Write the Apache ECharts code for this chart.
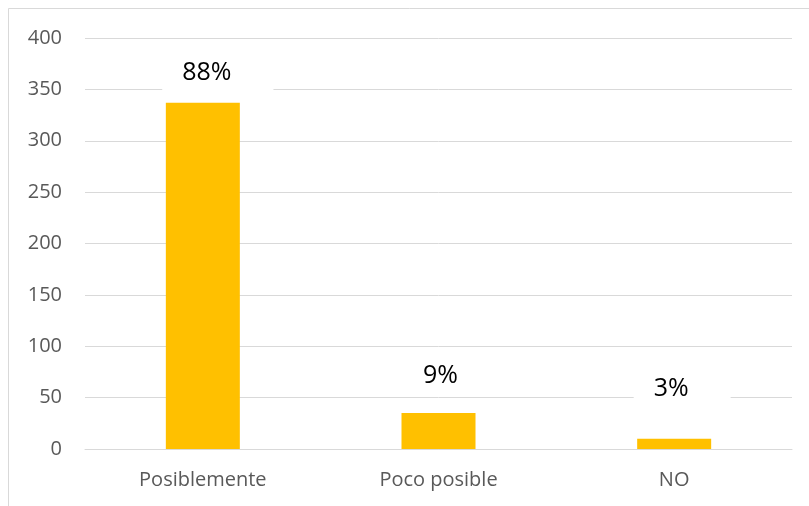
<!DOCTYPE html>
<html>
<head>
<meta charset="utf-8">
<script src="https://cdn.jsdelivr.net/npm/echarts@6/dist/echarts.min.js"></script>
<style>
  html, body { margin: 0; padding: 0; background: #fff; }
  #chart { width: 809px; height: 506px; }
</style>
</head>
<body>
<div id="chart"></div>
<script>
// Responses per category
const categories = ['Posiblemente', 'Poco posible', 'NO'];
const counts = [337, 35, 10];
const percentLabels = ['88%', '9%', '3%'];
const yTicks = { min: 0, max: 400, interval: 50 };

// Placement of each percentage label relative to its bar
const labelDistances = [9, 17, 29];
const labelShiftX = [15, 13, 8];

const FONT = 'Open Sans, Noto Sans, sans-serif';
const chart = echarts.init(document.getElementById('chart'));

chart.setOption({
  animation: false,
  backgroundColor: '#ffffff',
  graphic: [{
    type: 'rect',
    shape: { x: 8.5, y: 8.5, width: 820, height: 520 },
    style: { fill: 'none', stroke: '#d9d9d9', lineWidth: 1 },
    silent: true
  }],
  grid: { left: 85, right: 17, top: 38, bottom: 57 },
  xAxis: {
    type: 'category',
    data: categories,
    axisLine: { show: true, lineStyle: { color: '#d9d9d9', width: 1 } },
    axisTick: { show: false },
    axisLabel: { color: '#595959', fontSize: 20, fontFamily: FONT, margin: 21 }
  },
  yAxis: {
    type: 'value',
    min: yTicks.min,
    max: yTicks.max,
    interval: yTicks.interval,
    axisLine: { show: false },
    axisTick: { show: false },
    splitLine: { lineStyle: { color: '#d9d9d9', width: 1 } },
    axisLabel: { color: '#595959', fontSize: 20, fontFamily: FONT, margin: 23 }
  },
  series: [{
    type: 'bar',
    barWidth: 74,
    z: 3,
    itemStyle: { color: '#ffc000' },
    data: counts.map((v, i) => ({
      value: v,
      label: {
        show: true,
        position: 'top',
        distance: labelDistances[i],
        offset: [labelShiftX[i], 0],
        formatter: percentLabels[i],
        color: '#000000',
        fontSize: 25,
        fontFamily: FONT,
        backgroundColor: '#ffffff',
        padding: [8, 42, 8, 20]
      }
    }))
  }]
});
</script>
</body>
</html>
